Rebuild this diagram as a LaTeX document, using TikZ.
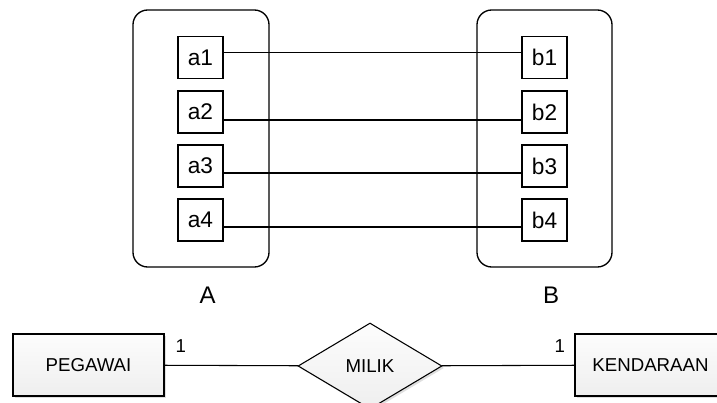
\documentclass[tikz,border=0pt]{standalone}
\usepackage{fontspec}
\setmainfont{Liberation Sans}
\usetikzlibrary{positioning, shapes.geometric, shadows}

\begin{document}
\begin{tikzpicture}[x=0.75pt, y=-0.75pt,
        grp/.style={draw, line width=1pt, rounded corners=11pt,
            minimum width=102pt, minimum height=192.75pt},
        elem/.style={draw, line width=1pt, inner sep=0pt,
            minimum width=33.75pt, minimum height=31.5pt,
            font=\fontsize{17}{19}\selectfont},
        ent/.style={draw, line width=0.8pt, inner sep=0pt,
            minimum width=113.25pt, minimum height=46.5pt,
            top color=gray!2, bottom color=gray!13,
            drop shadow={shadow xshift=1.5pt, shadow yshift=-1.5pt,
                fill=gray!50, opacity=0.5},
            font=\fontsize{14}{16}\selectfont},
        rel/.style={diamond, draw, line width=0.8pt, inner sep=0pt,
            minimum width=108pt, minimum height=64.5pt,
            top color=gray!2, bottom color=gray!13,
            drop shadow={shadow xshift=1.5pt, shadow yshift=-1.5pt,
                fill=gray!50, opacity=0.5},
            font=\fontsize{14}{16}\selectfont},
        card/.style={inner sep=0pt, font=\fontsize{14}{16}\selectfont}]
        \useasboundingbox (0,0) rectangle (717,403);

        % Sets
        \node[grp] (setA) at (201,138.5) {};
        \node[grp, minimum width=101.25pt] (setB) at (544.5,138.5) {};
        \node[below=11pt of setA, xshift=5pt, font=\fontsize{18}{20}\selectfont] (labA) {A};
        \node[below=11pt of setB, xshift=5pt, font=\fontsize{18}{20}\selectfont] (labB) {B};

        % Elements
        \node[elem] (a1) at (200.5,57.5) {a1};
        \node[elem] (a2) at (200.5,112) {a2};
        \node[elem] (a3) at (200.5,166) {a3};
        \node[elem] (a4) at (200.5,220) {a4};
        \node[elem] (b1) at (544.5,57.5) {b1};
        \node[elem] (b2) at (544.5,112) {b2};
        \node[elem] (b3) at (544.5,166) {b3};
        \node[elem] (b4) at (544.5,220) {b4};

        % Mapping
        \draw[line width=0.8pt] ([yshift=4pt]a1.east) -- ([yshift=4pt]b1.west);
        \draw[line width=0.8pt] ([yshift=-6pt]a2.east) -- ([yshift=-6pt]b2.west);
        \draw[line width=0.8pt] ([yshift=-5.25pt]a3.east) -- ([yshift=-5.25pt]b3.west);
        \draw[line width=0.8pt] ([yshift=-5.25pt]a4.east) -- ([yshift=-5.25pt]b4.west);

        % ER part
        \node[ent] (pegawai) at (88.5,365) {PEGAWAI};
        \node[rel] (milik) at (370,366) {MILIK};
        \node[ent] (kendaraan) at (650.5,365) {KENDARAAN};

        \draw[line width=0.8pt] (pegawai) -- node[card, pos=0, anchor=south west, xshift=8pt, yshift=9pt] {1} (milik);
        \draw[line width=0.8pt] (milik) -- node[card, pos=1, anchor=south east, xshift=-6.75pt, yshift=9pt] {1} (kendaraan);
    \end{tikzpicture}
\end{document}
